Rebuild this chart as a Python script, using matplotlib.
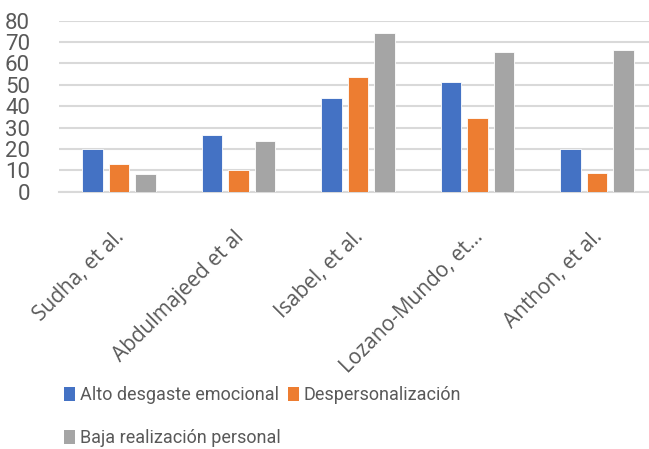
import matplotlib.pyplot as plt
import numpy as np
from matplotlib.patches import Patch

categories = ["Sudha, et al.", "Abdulmajeed et al", "Isabel, et al.", "Lozano-Mundo, et\u2026", "Anthon, et al."]
series_names = ["Alto desgaste emocional", "Despersonalización", "Baja realización personal"]
alto = [20, 26.3, 43.8, 51.3, 20.0]
desp = [12.8, 10.3, 53.5, 34.6, 8.9]
baja = [8.1, 23.7, 74.4, 65.2, 66.3]
yticks = [0, 10, 20, 30, 40, 50, 60, 70, 80]
colors = ["#4472C4", "#ED7D31", "#A5A5A5"]

narrow = 'Roboto'
plt.rcParams['font.family'] = ['Lato', 'DejaVu Sans']
W, H = 649, 449
fig = plt.figure(figsize=(W / 100, H / 100), dpi=100)
left, right, top, bottom = 59, 657, 20.7, 191.7
ax = fig.add_axes([left / W, 1 - bottom / H, (right - left) / W, (bottom - top) / H])

x = np.arange(len(categories))
bw = 0.172
step = 0.222
for i, (vals, c) in enumerate(zip([alto, desp, baja], colors)):
    ax.bar(x + (i - 1) * step, vals, width=bw, color=c, edgecolor='white', linewidth=0.6, zorder=3)

ax.set_xlim(-0.5, len(categories) - 0.5)
ax.set_ylim(0, 80)
ax.set_yticks(yticks)
ax.set_yticklabels([str(v) for v in yticks], fontsize=16, color='#595959', family=[narrow, 'DejaVu Sans'])
ax.yaxis.grid(True, color='#D9D9D9', linewidth=1.5, zorder=0)
ax.tick_params(axis='y', length=0, pad=21)
ax.tick_params(axis='x', length=0)
ax.set_xticks(x)
ax.set_xticklabels([])
for s in ['top', 'right', 'left']:
    ax.spines[s].set_visible(False)
ax.spines['bottom'].set_color('#D9D9D9')
ax.spines['bottom'].set_linewidth(1.5)

for xi, lab in zip(x, categories):
    ax.annotate(lab, xy=(xi, 0), xycoords=('data', 'axes fraction'),
                xytext=(-5, -35), textcoords='offset pixels',
                rotation=45, ha='right', va='top', rotation_mode='anchor',
                fontsize=15, color='#595959', family=['Open Sans', 'DejaVu Sans'])

handles = [Patch(facecolor=c, edgecolor='none') for c in colors]
leg_kw = dict(frameon=False, prop={'family': [narrow, 'DejaVu Sans'], 'size': 13}, labelcolor='#595959',
              handlelength=0.61, handleheight=0.78, handletextpad=0.3, borderaxespad=0, borderpad=0)
fig.legend(handles[:2], series_names[:2], loc='center left', bbox_to_anchor=(64 / W, 1 - 395 / H),
           ncol=2, columnspacing=0.45, **leg_kw)
fig.legend(handles[2:], series_names[2:], loc='center left', bbox_to_anchor=(64 / W, 1 - 438 / H),
           ncol=1, **leg_kw)

fig.savefig('out.png', dpi=100)
